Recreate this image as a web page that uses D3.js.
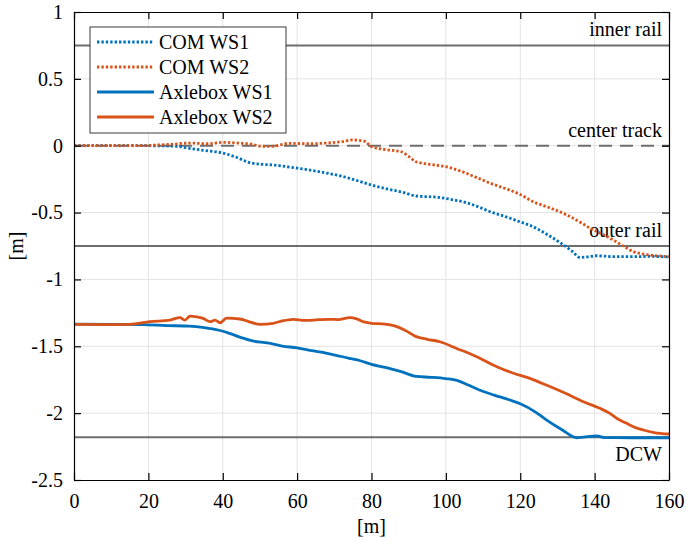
<!DOCTYPE html>
<html>
<head>
<meta charset="utf-8">
<script src="https://cdn.jsdelivr.net/npm/d3@7"></script>
<style>
  body { margin: 0; background: #fff; }
  svg text { font-family: "Liberation Serif", "Tinos", "Times New Roman", "DejaVu Serif", serif; }
</style>
</head>
<body>
<div id="chart"></div>
<script>
// distance along track [m] and lateral offset [m]
const comWS1X = [0, 10, 20, 28, 31, 35, 40, 44, 47, 50, 54, 58, 63, 68, 72, 76, 80, 84, 88, 92, 98, 102, 105, 109, 112, 116, 120, 123, 127, 131, 134, 136, 138, 140.5, 145, 150, 155, 160];
const comWS1Y = [0, 0, 0, -0.005, -0.02, -0.035, -0.055, -0.09, -0.125, -0.138, -0.145, -0.16, -0.18, -0.205, -0.228, -0.26, -0.294, -0.322, -0.345, -0.376, -0.386, -0.405, -0.422, -0.46, -0.494, -0.53, -0.57, -0.6, -0.66, -0.73, -0.79, -0.835, -0.832, -0.823, -0.83, -0.83, -0.828, -0.832];

const comWS2X = [0, 10, 18, 22, 26, 31, 36, 40, 44, 48, 50, 53, 58, 63, 68, 72, 75, 78, 80, 84, 88, 90, 92, 96, 100, 104, 108, 112, 116, 120, 123.5, 128, 132.5, 136, 139, 142, 145, 148, 150.5, 153, 155, 158, 160];
const comWS2Y = [0, 0, 0, 0.005, 0.01, 0.02, 0.015, 0.025, 0.02, 0.01, -0.003, -0.005, 0.018, 0.015, 0.02, 0.03, 0.043, 0.035, -0.007, -0.03, -0.045, -0.08, -0.12, -0.14, -0.157, -0.19, -0.235, -0.281, -0.32, -0.365, -0.419, -0.465, -0.518, -0.57, -0.62, -0.66, -0.705, -0.755, -0.793, -0.81, -0.818, -0.826, -0.83];

const axleWS1X = [0, 10, 15, 20, 25, 31, 35, 39, 42, 45, 48, 52, 56, 60, 64, 69, 74, 77, 80, 84, 88, 92, 96, 100, 103, 106, 109, 113, 117, 120, 124, 127, 131, 135.2, 137, 140.5, 143, 150, 160];
const axleWS1Y = [-1.335, -1.336, -1.336, -1.34, -1.345, -1.349, -1.36, -1.38, -1.405, -1.435, -1.46, -1.475, -1.498, -1.512, -1.533, -1.558, -1.59, -1.608, -1.635, -1.66, -1.69, -1.725, -1.732, -1.742, -1.755, -1.79, -1.827, -1.865, -1.9, -1.93, -1.99, -2.05, -2.12, -2.184, -2.18, -2.171, -2.183, -2.184, -2.184];

const axleWS2X = [0, 10, 15, 20.4, 25.8, 28.5, 29.8, 31.2, 33, 34.7, 36.6, 37.9, 39.3, 41, 44.6, 47, 50, 53.6, 56, 59, 62, 64.3, 66, 68.8, 71, 74.2, 76, 78, 80, 83, 86, 89, 92, 95, 98.4, 102.9, 108.3, 113.7, 118, 122.6, 127, 132, 137, 141.4, 144.1, 146, 148.6, 151, 153.1, 156, 160];
const axleWS2Y = [-1.336, -1.338, -1.336, -1.316, -1.304, -1.286, -1.304, -1.274, -1.28, -1.291, -1.316, -1.304, -1.324, -1.29, -1.296, -1.315, -1.336, -1.328, -1.31, -1.298, -1.306, -1.304, -1.3, -1.298, -1.3, -1.286, -1.295, -1.318, -1.328, -1.332, -1.346, -1.38, -1.428, -1.448, -1.466, -1.516, -1.578, -1.653, -1.7, -1.74, -1.79, -1.85, -1.915, -1.964, -2.002, -2.04, -2.076, -2.108, -2.126, -2.145, -2.156];

const series = [
  { name: "COM WS1", xs: comWS1X, ys: comWS1Y, color: "#0072BD", dotted: true },
  { name: "COM WS2", xs: comWS2X, ys: comWS2Y, color: "#D95319", dotted: true },
  { name: "Axlebox WS1", xs: axleWS1X, ys: axleWS1Y, color: "#0072BD", dotted: false },
  { name: "Axlebox WS2", xs: axleWS2X, ys: axleWS2Y, color: "#D95319", dotted: false }
];

// reference lines
const refNames = ["inner rail", "center track", "outer rail", "DCW"];
const refValues = [0.75, 0, -0.75, -2.18];
const refDashed = [false, true, false, false];
const refLabelAbove = [true, true, true, false];

const xTicks = [0, 20, 40, 60, 80, 100, 120, 140, 160];
const yTicks = [1, 0.5, 0, -0.5, -1, -1.5, -2, -2.5];

const W = 686, H = 543;
const margin = { top: 12, right: 17, bottom: 63, left: 74 };
const width = W - margin.left - margin.right;
const height = H - margin.top - margin.bottom;
const FONT = "'Liberation Serif', Tinos, 'Times New Roman', 'DejaVu Serif', serif";
const FS = 20;

const svg = d3.select("#chart").append("svg")
  .attr("width", W)
  .attr("height", H)
  .attr("font-family", FONT);

const chart = svg.append("g")
  .attr("transform", "translate(" + margin.left + "," + margin.top + ")");

const x = d3.scaleLinear().domain([0, 160]).range([0, width]);
const y = d3.scaleLinear().domain([-2.5, 1]).range([height, 0]);

// grid
chart.append("g").selectAll("line")
  .data(xTicks.slice(1, -1))
  .join("line")
    .attr("x1", d => x(d)).attr("x2", d => x(d))
    .attr("y1", 0).attr("y2", height)
    .attr("stroke", "#e3e3e3").attr("stroke-width", 1);
chart.append("g").selectAll("line")
  .data(yTicks.slice(1, -1))
  .join("line")
    .attr("x1", 0).attr("x2", width)
    .attr("y1", d => y(d)).attr("y2", d => y(d))
    .attr("stroke", "#e3e3e3").attr("stroke-width", 1);

// reference lines
refValues.forEach((v, i) => {
  chart.append("line")
    .attr("x1", 0).attr("x2", width)
    .attr("y1", y(v)).attr("y2", y(v))
    .attr("stroke", "#6e6e6e")
    .attr("stroke-width", 2)
    .attr("stroke-dasharray", refDashed[i] ? "13,8" : null);
  chart.append("text")
    .attr("x", width - 7)
    .attr("y", refLabelAbove[i] ? y(v) - 9 : y(v) + 24)
    .attr("text-anchor", "end")
    .attr("font-size", FS)
    .style("font-family", FONT)
    .text(refNames[i]);
});

// data lines
const line = d3.line()
  .x(d => x(d[0]))
  .y(d => y(d[1]))
  .curve(d3.curveMonotoneX);

series.forEach(s => {
  chart.append("path")
    .datum(s.xs.map((v, i) => [v, s.ys[i]]))
    .attr("fill", "none")
    .attr("stroke", s.color)
    .attr("stroke-width", 2.8)
    .attr("stroke-dasharray", s.dotted ? "2.4,2" : null)
    .attr("d", line);
});

// axes
const tickFmt = d => String(d);
const axB = chart.append("g").attr("transform", "translate(0," + height + ")")
  .call(d3.axisBottom(x).tickValues(xTicks).tickFormat(tickFmt).tickSizeInner(-7).tickSizeOuter(0).tickPadding(14));
const axT = chart.append("g")
  .call(d3.axisTop(x).tickValues(xTicks).tickFormat("").tickSizeInner(-7).tickSizeOuter(0));
const axL = chart.append("g")
  .call(d3.axisLeft(y).tickValues(yTicks).tickFormat(tickFmt).tickSizeInner(-7).tickSizeOuter(0).tickPadding(11));
const axR = chart.append("g").attr("transform", "translate(" + width + ",0)")
  .call(d3.axisRight(y).tickValues(yTicks).tickFormat("").tickSizeInner(-7).tickSizeOuter(0));

[axB, axT, axL, axR].forEach(a => {
  a.attr("font-family", FONT);
  a.select(".domain").attr("stroke", "#000").attr("stroke-width", 1.2);
  a.selectAll(".tick line").attr("stroke", "#000").attr("stroke-width", 1.2);
  a.selectAll("text").attr("font-size", FS).attr("fill", "#000")
    .style("font-family", FONT);
});

// axis labels
svg.append("text")
  .attr("x", margin.left + x(80))
  .attr("y", 533)
  .attr("text-anchor", "middle")
  .attr("font-size", FS)
  .style("font-family", FONT)
  .text("[m]");
svg.append("text")
  .attr("transform", "translate(23," + (margin.top + y(-0.75)) + ") rotate(-90)")
  .attr("text-anchor", "middle")
  .attr("font-size", FS)
  .style("font-family", FONT)
  .text("[m]");

// legend
const legend = chart.append("g").attr("transform", "translate(16,15)");
legend.append("rect")
  .attr("width", 196).attr("height", 106)
  .attr("fill", "#fff").attr("stroke", "#3a3a3a").attr("stroke-width", 1);
series.forEach((s, i) => {
  const ly = 15 + i * 25;
  legend.append("line")
    .attr("x1", 7).attr("x2", 64)
    .attr("y1", ly).attr("y2", ly)
    .attr("stroke", s.color)
    .attr("stroke-width", 2.8)
    .attr("stroke-dasharray", s.dotted ? "2.4,2" : null);
  legend.append("text")
    .attr("x", 69).attr("y", ly + 7)
    .attr("font-size", FS)
    .style("font-family", FONT)
    .text(s.name);
});
</script>
</body>
</html>
